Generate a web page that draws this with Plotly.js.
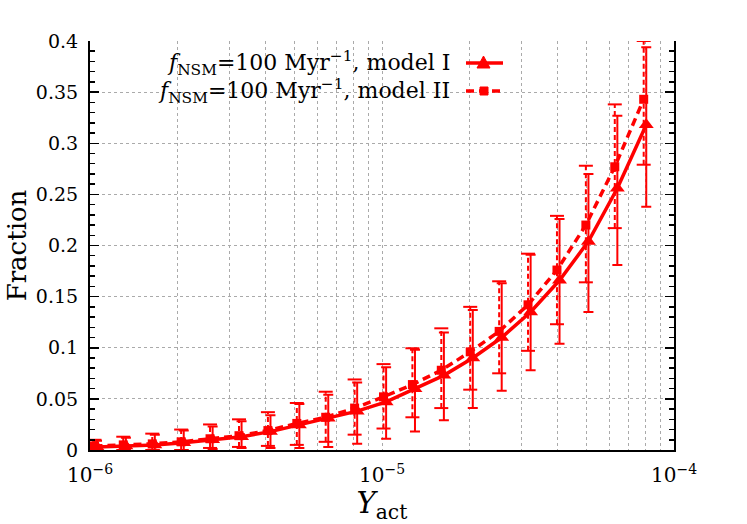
<!DOCTYPE html>
<html>
<head>
<meta charset="utf-8">
<script src="https://cdn.plot.ly/plotly-3.0.1.min.js"></script>
<style>html,body{margin:0;padding:0;background:#fff;}</style>
</head>
<body>
<div id="chart" style="width:747px;height:524px;"></div>
<script>
// ---- data ----
const xModelI = [1.057e-6, 1.327e-6, 1.667e-6, 2.094e-6, 2.630e-6, 3.304e-6, 4.150e-6, 5.212e-6, 6.546e-6, 8.222e-6,
                 1.033e-5, 1.297e-5, 1.629e-5, 2.046e-5, 2.570e-5, 3.228e-5, 4.055e-5, 5.093e-5, 6.397e-5, 8.035e-5];
const yModelI = [0.003, 0.004, 0.005, 0.007, 0.010, 0.013, 0.018, 0.0245, 0.031, 0.038,
                 0.047, 0.060, 0.073, 0.090, 0.110, 0.135, 0.166, 0.204, 0.256, 0.318];
const loModelI = [0.000, 0.000, 0.000, 0.000, 0.001, 0.002, 0.002, 0.002, 0.003, 0.006,
                  0.011, 0.018, 0.029, 0.041, 0.058, 0.078, 0.104, 0.135, 0.181, 0.238];
const hiModelI = [0.009, 0.012, 0.015, 0.019, 0.023, 0.028, 0.034, 0.045, 0.054, 0.066,
                  0.081, 0.098, 0.115, 0.137, 0.163, 0.191, 0.226, 0.270, 0.327, 0.394];

const xModelII = [1.036e-6, 1.300e-6, 1.634e-6, 2.052e-6, 2.577e-6, 3.238e-6, 4.067e-6, 5.108e-6, 6.415e-6, 8.058e-6,
                  1.012e-5, 1.271e-5, 1.596e-5, 2.005e-5, 2.519e-5, 3.163e-5, 3.974e-5, 4.991e-5, 6.269e-5, 7.874e-5];
const yModelII = [0.004, 0.005, 0.006, 0.008, 0.011, 0.014, 0.019, 0.026, 0.032, 0.041,
                  0.052, 0.064, 0.078, 0.096, 0.116, 0.142, 0.176, 0.220, 0.277, 0.343];
const loModelII = [0.000, 0.000, 0.000, 0.000, 0.002, 0.003, 0.004, 0.005, 0.008, 0.015,
                   0.021, 0.032, 0.041, 0.059, 0.075, 0.097, 0.123, 0.164, 0.217, 0.279];
const hiModelII = [0.010, 0.013, 0.016, 0.020, 0.025, 0.030, 0.037, 0.046, 0.057, 0.069,
                   0.084, 0.0995, 0.119, 0.140, 0.165, 0.192, 0.229, 0.278, 0.338, 0.400];

const legendLabels = ["<i>f</i><sub>NSM</sub>=100 Myr<sup>−1</sup>, model I",
                      "<i>f</i><sub>NSM</sub>=100 Myr<sup>−1</sup>, model II"];
const xTickVals = [1e-6, 1e-5, 1e-4];
const xTickText = ["10<sup>−6</sup>", "10<sup>−5</sup>", "10<sup>−4</sup>"];
const xMinorVals = [2e-6,3e-6,4e-6,5e-6,6e-6,7e-6,8e-6,9e-6,2e-5,3e-5,4e-5,5e-5,6e-5,7e-5,8e-5,9e-5];

const RED = '#ff0000';
const FONT = 'DejaVu Serif, Liberation Serif, serif';

// dashed error bars for model II, built from the data arrays
const barX = [], barY = [];
xModelII.forEach((x, i) => { barX.push(x, x, null); barY.push(loModelII[i], hiModelII[i], null); });
const capX = xModelII.concat(xModelII);
const capY = loModelII.concat(hiModelII);

const traces = [
  { x: barX, y: barY, mode: 'lines', line: {color: RED, width: 2, dash: '5px,3px'},
    hoverinfo: 'skip', showlegend: false },
  { x: capX, y: capY, mode: 'markers', hoverinfo: 'skip', showlegend: false,
    marker: {symbol: 'line-ew', size: 10, line: {color: RED, width: 2}} },
  { x: xModelII, y: yModelII, mode: 'lines+markers', name: legendLabels[1], showlegend: false,
    line: {color: RED, width: 3.5, dash: '8px,5px'},
    marker: {symbol: 'square', size: 9, color: RED} },
  { x: xModelI, y: yModelI, mode: 'lines+markers', name: legendLabels[0], showlegend: false,
    line: {color: RED, width: 3.5},
    marker: {symbol: 'triangle-up', size: 13, color: RED},
    error_y: {type: 'data', symmetric: false,
              array: hiModelI.map((h, i) => h - yModelI[i]),
              arrayminus: loModelI.map((l, i) => yModelI[i] - l),
              color: RED, thickness: 2, width: 5} }
];

// legend drawn at the upper left, symbols to the right of the text
const L = 90, R = 674, T = 41, B = 450;
const px = v => (v - L) / (R - L);
const py = v => (B - v) / (B - T);
const rows = [63, 91];
const shapes = [
  {type: 'line', xref: 'paper', yref: 'paper', x0: px(466), x1: px(503), y0: py(rows[0]), y1: py(rows[0]),
   line: {color: RED, width: 3.5}},
  {type: 'path', xref: 'paper', yref: 'paper',
   path: `M ${px(477)},${py(rows[0]+5)} L ${px(490)},${py(rows[0]+5)} L ${px(483.5)},${py(rows[0]-7)} Z`,
   fillcolor: RED, line: {color: RED, width: 1}},
  {type: 'line', xref: 'paper', yref: 'paper', x0: px(466), x1: px(503), y0: py(rows[1]), y1: py(rows[1]),
   line: {color: RED, width: 3.5, dash: '8px,5px'}},
  {type: 'rect', xref: 'paper', yref: 'paper', x0: px(480), x1: px(488), y0: py(rows[1]+4), y1: py(rows[1]-4),
   fillcolor: RED, line: {color: RED, width: 1}}
];
const annotations = legendLabels.map((t, i) => ({
  text: t, xref: 'paper', yref: 'paper', x: px(452), y: py(rows[i]),
  xanchor: 'right', yanchor: 'middle', showarrow: false,
  font: {family: FONT, size: 22, color: '#000'}
}));

const layout = {
  width: 747, height: 524,
  margin: {l: L, r: 747 - R, t: T, b: 524 - B},
  paper_bgcolor: '#fff', plot_bgcolor: '#fff',
  font: {family: FONT, size: 19, color: '#000'},
  showlegend: false,
  xaxis: {
    type: 'log', range: [-6, -4],
    tickmode: 'array', tickvals: xTickVals, ticktext: xTickText,
    ticks: 'outside', ticklen: 6, tickcolor: 'rgba(0,0,0,0)',
    showline: true, linecolor: '#000', linewidth: 2,
    showgrid: true, gridcolor: '#aaa', griddash: 'dot', gridwidth: 1,
    zeroline: false,
    tickfont: {family: FONT, size: 20},
    minor: {tickmode: 'array', tickvals: xMinorVals, ticks: '',
            showgrid: true, gridcolor: '#aaa', griddash: 'dot', gridwidth: 1},
    title: {text: '<i>Y</i><sub>act</sub>', font: {family: FONT, size: 29}, standoff: 0}
  },
  xaxis2: {
    type: 'log', range: [-6, -4], overlaying: 'x', anchor: 'y', side: 'bottom',
    tickmode: 'array', tickvals: xTickVals, showticklabels: false,
    ticks: 'inside', ticklen: 9, tickwidth: 1.5, tickcolor: '#000',
    showline: true, linecolor: '#000', linewidth: 2, mirror: 'ticks',
    showgrid: false, zeroline: false,
    minor: {tickmode: 'array', tickvals: xMinorVals, ticks: 'inside', ticklen: 5, tickwidth: 1.5,
            tickcolor: '#000', showgrid: false}
  },
  yaxis: {
    range: [0, 0.4], dtick: 0.05, tick0: 0,
    ticks: 'inside', ticklen: 9, tickwidth: 1.5, tickcolor: '#000',
    ticksuffix: '\u00a0',
    showline: true, linecolor: '#000', linewidth: 2, mirror: 'ticks',
    showgrid: true, gridcolor: '#aaa', griddash: 'dot', gridwidth: 1,
    zeroline: false,
    tickfont: {family: FONT, size: 19},
    minor: {dtick: 0.01, ticks: 'inside', ticklen: 5, tickwidth: 1.5, tickcolor: '#000', showgrid: false},
    title: {text: 'Fraction', font: {family: FONT, size: 26}, standoff: 2}
  },
  shapes: shapes,
  annotations: annotations
};

Plotly.newPlot('chart', traces, layout, {displayModeBar: false, staticPlot: true});
</script>
</body>
</html>
